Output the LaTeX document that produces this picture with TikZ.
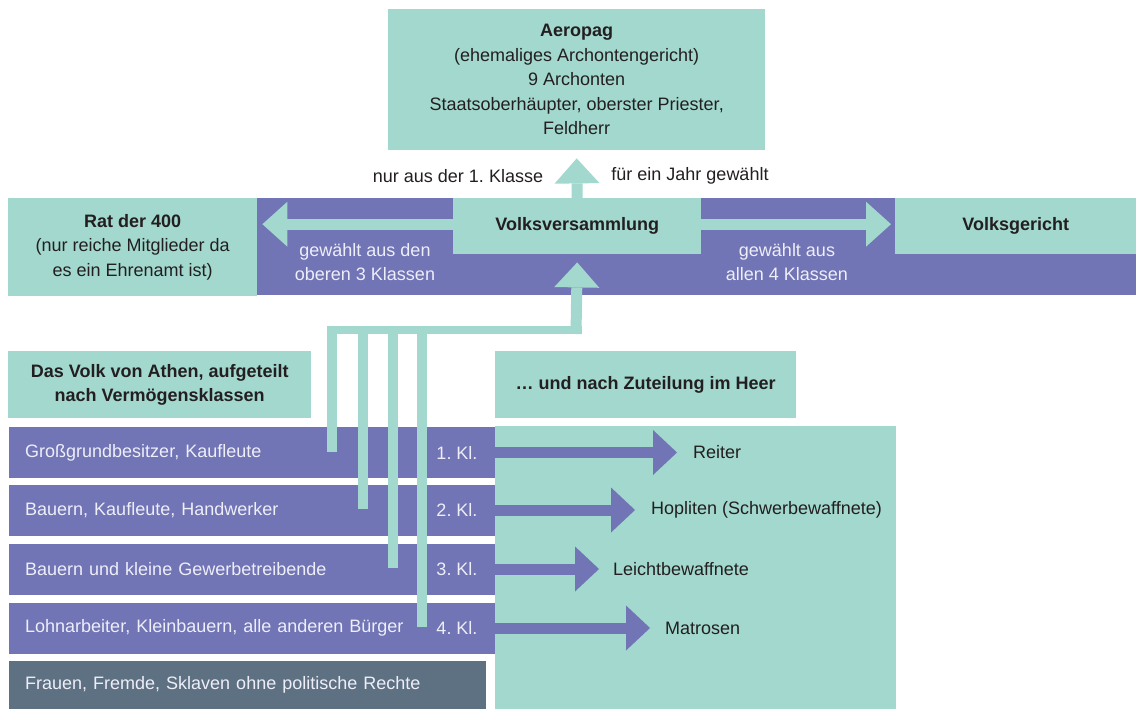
\documentclass[tikz,border=0pt]{standalone}
\usepackage{fontspec}
\setmainfont{Liberation Sans}
\usepackage{xcolor}
\usetikzlibrary{arrows.meta,calc}
\definecolor{tealbg}{HTML}{A2D8CE}
\definecolor{klasse}{HTML}{7174B5}
\definecolor{rechtlos}{HTML}{5E7183}
\definecolor{ink}{HTML}{231F20}
\definecolor{paleink}{HTML}{EEEEF8}
\frenchspacing

\begin{document}
\begin{tikzpicture}[x=1pt,y=-1pt,
  every node/.style={font=\fontsize{18}{24.5}\selectfont, text=ink, inner sep=0pt, align=center},
  tbox/.style={rectangle, fill=tealbg, anchor=north west},
  pbox/.style={rectangle, fill=klasse, anchor=north west},
  pale/.style={text=paleink},
  klrow/.style={rectangle, fill=klasse, anchor=west, minimum height=51pt, text width=454pt,
    inner xsep=16pt, align=left, text=paleink},
  tarrow/.style={draw=tealbg, line width=11pt, -{Triangle[length=25pt, width=45pt, line width=0pt]}},
  parrow/.style={draw=klasse, line width=11pt, -{Triangle[length=24pt, width=45pt, line width=0pt]}},
  combv/.style={draw=tealbg, line width=10pt},
  combh/.style={draw=tealbg, line width=8pt}]

  \useasboundingbox (0,0) rectangle (1136,709);

  % Organe
  \node[tbox, minimum width=377pt, minimum height=141pt] (aeropag) at (388,9)
    {\textbf{Aeropag}\\(ehemaliges Archontengericht)\\9 Archonten\\Staatsoberhäupter, oberster Priester,\\Feldherr};
  \node[pbox, minimum width=879pt, minimum height=97pt] (band) at (257,198) {};
  \node[tbox, minimum width=249pt, minimum height=98pt] (rat) at (8,198)
    {\textbf{Rat der 400}\\(nur reiche Mitglieder da\\es ein Ehrenamt ist)};
  \node[tbox, minimum width=248pt, minimum height=56pt] (vv) at (453,198) {\textbf{Volksversammlung}};
  \node[tbox, minimum width=241pt, minimum height=56pt] (vg) at (895,198) {\textbf{Volksgericht}};

  \node[pale] (wahl3) at (365,262) {gewählt aus den\\oberen 3 Klassen};
  \node[pale] (wahl4) at (787,262) {gewählt aus\\allen 4 Klassen};
  \node (nur) at (458,176) {nur aus der 1. Klasse};
  \node (jahr) at (690,176) {für ein Jahr gewählt};

  \draw[tarrow] (vv.north) -- ([yshift=-8pt]aeropag.south);
  \draw[tarrow] ([yshift=2pt]vv.west) -- ($(rat.east |- vv.west)+(5,-2)$);
  \draw[tarrow] ([yshift=2pt]vv.east) -- ($(vg.west |- vv.east)+(-4,-2)$);

  % Volk und Heer
  \node[tbox, minimum width=303pt, minimum height=67pt] (volk) at (8,351)
    {\textbf{Das Volk von Athen, aufgeteilt}\\\textbf{nach Vermögensklassen}};
  \node[tbox, minimum width=301pt, minimum height=67pt] (heer) at (495,351) {\textbf{… und nach Zuteilung im Heer}};
  \node[tbox, minimum width=401pt, minimum height=283pt] (feld) at (495,426) {};

  \node[klrow] (r1) at (9,452.5) {Großgrundbesitzer, Kaufleute};
  \node[klrow] (r2) at (9,510) {Bauern, Kaufleute, Handwerker};
  \node[klrow] (r3) at (9,569) {Bauern und kleine Gewerbetreibende};
  \node[klrow] (r4) at (9,628) {Lohnarbeiter, Kleinbauern, alle anderen Bürger};
  \node[klrow, fill=rechtlos, text width=445pt, minimum height=48pt] (r5) at (9,685)
    {Frauen, Fremde, Sklaven ohne politische Rechte};

  \node[pale] (k1) at (457,452.5) {1. Kl.};
  \node[pale] (k2) at (457,510) {2. Kl.};
  \node[pale] (k3) at (457,569) {3. Kl.};
  \node[pale] (k4) at (457,628) {4. Kl.};

  \node[anchor=west] (reiter) at (693,452.5) {Reiter};
  \node[anchor=west] (hopl) at (651,510) {Hopliten (Schwerbewaffnete)};
  \node[anchor=west] (leicht) at (613,569) {Leichtbewaffnete};
  \node[anchor=west] (matr) at (665,628) {Matrosen};

  \draw[parrow] (r1.east) -- ([xshift=-16pt]reiter.west);
  \draw[parrow] (r2.east) -- ([xshift=-16pt]hopl.west);
  \draw[parrow] (r3.east) -- ([xshift=-14pt]leicht.west);
  \draw[parrow] (r4.east) -- ([xshift=-15pt]matr.west);

  % Kamm zur Volksversammlung
  \coordinate (bar) at (576,326);
  \coordinate (c1) at (332,452);
  \coordinate (c2) at (362.5,509);
  \coordinate (c3) at (392.5,568);
  \coordinate (c4) at (422,627);
  \draw[combv] (c1) -- (c1 |- bar);
  \draw[combv] (c2) -- (c2 |- bar);
  \draw[combv] (c3) -- (c3 |- bar);
  \draw[combv] (c4) -- (c4 |- bar);
  \draw[combh] ($(c1 |- bar)+(-5,4)$) -- ($(bar)+(5.5,4)$);
  \draw[tarrow] ($(bar)+(0,8)$) -- ([yshift=-8pt]vv.south);
\end{tikzpicture}
\end{document}
